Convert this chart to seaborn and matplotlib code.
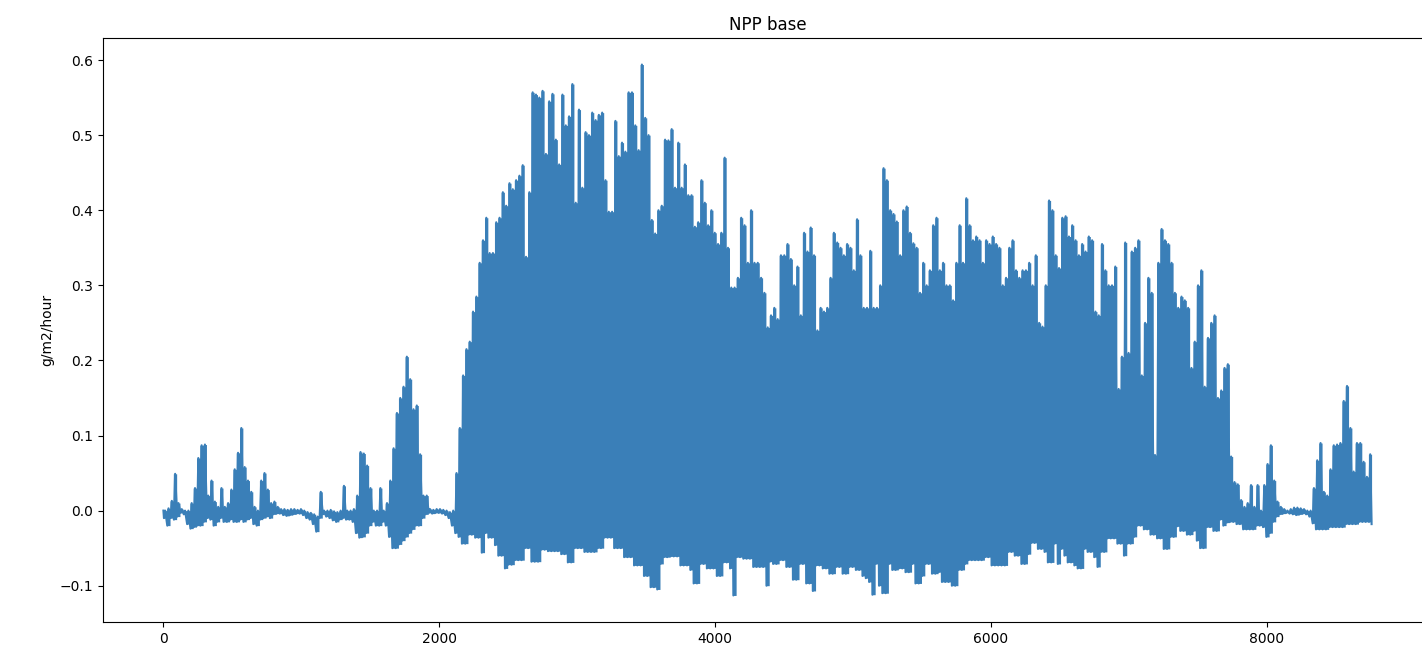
import matplotlib
matplotlib.use("Agg")
import matplotlib.pyplot as plt
import seaborn as sns

# Daily extremes of the hourly series (g/m2/hour)
daily_max = [
    0.0, 0.003, 0.013, 0.049, 0.01, 0.002, 0.0, 0.0, 0.01, 0.03,
    0.07, 0.087, 0.088, 0.02, 0.04, 0.012, 0.005, 0.03, 0.005, 0.01,
    0.028, 0.055, 0.077, 0.11, 0.058, 0.04, 0.025, 0.005, 0.0, 0.04,
    0.05, 0.028, 0.01, 0.012, 0.005, 0.002, 0.002, 0.001, 0.002, 0.002,
    0.001, 0.002, 0.0, -0.002, -0.003, -0.005, -0.008, 0.025, 0.0, 0.0,
    0.001, -0.001, -0.002, 0.0, 0.033, 0.0, 0.0, 0.002, 0.02, 0.078,
    0.076, 0.06, 0.03, 0.0, 0.0, 0.03, 0.0, 0.01, 0.04, 0.083,
    0.13, 0.15, 0.165, 0.205, 0.175, 0.135, 0.14, 0.075, 0.02, 0.02,
    0.002, 0.001, 0.002, 0.002, 0.001, 0.0, -0.002, 0.0, 0.05, 0.11,
    0.18, 0.215, 0.225, 0.265, 0.285, 0.33, 0.36, 0.39, 0.343, 0.343,
    0.384, 0.39, 0.424, 0.406, 0.436, 0.428, 0.44, 0.446, 0.46, 0.338,
    0.424, 0.557, 0.554, 0.55, 0.559, 0.475, 0.545, 0.555, 0.494, 0.461,
    0.554, 0.513, 0.525, 0.568, 0.41, 0.534, 0.43, 0.504, 0.50, 0.53,
    0.52, 0.527, 0.53, 0.44, 0.398, 0.398, 0.519, 0.472, 0.49, 0.478,
    0.557, 0.557, 0.513, 0.48, 0.594, 0.523, 0.50, 0.387, 0.369, 0.40,
    0.406, 0.494, 0.493, 0.508, 0.43, 0.49, 0.43, 0.461, 0.42, 0.42,
    0.378, 0.384, 0.44, 0.41, 0.38, 0.40, 0.37, 0.355, 0.37, 0.47,
    0.35, 0.297, 0.297, 0.31, 0.39, 0.38, 0.33, 0.40, 0.33, 0.33,
    0.31, 0.29, 0.244, 0.26, 0.27, 0.255, 0.34, 0.34, 0.355, 0.335,
    0.30, 0.325, 0.26, 0.37, 0.345, 0.377, 0.34, 0.24, 0.27, 0.265,
    0.27, 0.31, 0.37, 0.357, 0.35, 0.34, 0.355, 0.35, 0.32, 0.388,
    0.34, 0.27, 0.27, 0.346, 0.27, 0.27, 0.30, 0.456, 0.44, 0.40,
    0.395, 0.385, 0.34, 0.40, 0.405, 0.37, 0.356, 0.35, 0.29, 0.33,
    0.30, 0.32, 0.38, 0.39, 0.32, 0.33, 0.30, 0.30, 0.28, 0.33,
    0.38, 0.33, 0.416, 0.38, 0.36, 0.365, 0.36, 0.33, 0.36, 0.355,
    0.365, 0.355, 0.35, 0.30, 0.31, 0.35, 0.36, 0.32, 0.31, 0.32,
    0.32, 0.33, 0.30, 0.34, 0.25, 0.245, 0.30, 0.413, 0.40, 0.34,
    0.323, 0.39, 0.392, 0.365, 0.38, 0.36, 0.34, 0.355, 0.345, 0.365,
    0.36, 0.265, 0.26, 0.355, 0.32, 0.30, 0.30, 0.325, 0.162, 0.205,
    0.357, 0.21, 0.345, 0.35, 0.36, 0.18, 0.25, 0.31, 0.29, 0.074,
    0.33, 0.375, 0.36, 0.355, 0.33, 0.29, 0.27, 0.285, 0.28, 0.27,
    0.19, 0.225, 0.30, 0.32, 0.165, 0.23, 0.25, 0.26, 0.15, 0.16,
    0.19, 0.195, 0.072, 0.038, 0.035, 0.014, 0.005, 0.01, 0.034, 0.005,
    0.034, 0.0, 0.034, 0.062, 0.087, 0.04, 0.012, 0.005, 0.002, 0.0,
    0.002, 0.004, 0.004, 0.003, 0.002, 0.0, 0.0, 0.03, 0.067, 0.09,
    0.025, 0.02, 0.055, 0.087, 0.088, 0.09, 0.146, 0.166, 0.11, 0.052,
    0.09, 0.09, 0.065, 0.045, 0.075,
]

daily_min = [
    -0.01, -0.02, -0.01, -0.012, -0.008, -0.003, -0.005, -0.018, -0.024, -0.022,
    -0.02, -0.02, -0.015, -0.01, -0.012, -0.02, -0.015, -0.01, -0.015, -0.015,
    -0.012, -0.015, -0.015, -0.012, -0.015, -0.012, -0.01, -0.018, -0.02, -0.012,
    -0.01, -0.008, -0.01, -0.005, -0.004, -0.004, -0.006, -0.007, -0.006, -0.005,
    -0.004, -0.004, -0.006, -0.01, -0.012, -0.018, -0.028, -0.01, -0.005, -0.008,
    -0.01, -0.013, -0.015, -0.012, -0.01, -0.012, -0.012, -0.015, -0.03, -0.036,
    -0.035, -0.03, -0.02, -0.015, -0.02, -0.02, -0.015, -0.02, -0.035, -0.05,
    -0.05, -0.045, -0.04, -0.035, -0.03, -0.025, -0.02, -0.02, -0.01, -0.005,
    -0.003, -0.004, -0.003, -0.003, -0.004, -0.006, -0.01, -0.02, -0.03, -0.035,
    -0.044, -0.044, -0.032, -0.032, -0.036, -0.036, -0.056, -0.03, -0.036, -0.036,
    -0.046, -0.06, -0.06, -0.077, -0.072, -0.072, -0.066, -0.066, -0.066, -0.05,
    -0.05, -0.068, -0.068, -0.068, -0.052, -0.052, -0.054, -0.054, -0.054, -0.054,
    -0.058, -0.058, -0.069, -0.069, -0.05, -0.05, -0.05, -0.055, -0.055, -0.055,
    -0.055, -0.05, -0.05, -0.036, -0.036, -0.036, -0.05, -0.05, -0.05, -0.062,
    -0.062, -0.062, -0.073, -0.073, -0.073, -0.087, -0.087, -0.102, -0.102, -0.105,
    -0.071, -0.062, -0.062, -0.061, -0.061, -0.061, -0.073, -0.073, -0.073, -0.079,
    -0.097, -0.097, -0.071, -0.071, -0.077, -0.077, -0.077, -0.087, -0.087, -0.069,
    -0.069, -0.077, -0.113, -0.062, -0.062, -0.064, -0.064, -0.064, -0.075, -0.075,
    -0.075, -0.075, -0.1, -0.068, -0.071, -0.071, -0.066, -0.066, -0.075, -0.075,
    -0.092, -0.092, -0.071, -0.071, -0.097, -0.097, -0.107, -0.073, -0.073, -0.077,
    -0.077, -0.084, -0.084, -0.075, -0.075, -0.084, -0.084, -0.075, -0.075, -0.079,
    -0.079, -0.087, -0.09, -0.095, -0.112, -0.071, -0.1, -0.11, -0.11, -0.071,
    -0.079, -0.079, -0.077, -0.077, -0.082, -0.082, -0.071, -0.097, -0.097, -0.087,
    -0.071, -0.071, -0.084, -0.084, -0.082, -0.095, -0.095, -0.095, -0.1, -0.1,
    -0.079, -0.079, -0.071, -0.066, -0.066, -0.066, -0.066, -0.066, -0.062, -0.062,
    -0.073, -0.073, -0.073, -0.073, -0.073, -0.055, -0.055, -0.06, -0.06, -0.071,
    -0.071, -0.058, -0.043, -0.043, -0.051, -0.051, -0.055, -0.069, -0.069, -0.044,
    -0.071, -0.051, -0.06, -0.069, -0.069, -0.073, -0.077, -0.077, -0.051, -0.055,
    -0.055, -0.062, -0.075, -0.055, -0.055, -0.037, -0.037, -0.037, -0.044, -0.044,
    -0.06, -0.044, -0.044, -0.035, -0.02, -0.02, -0.025, -0.025, -0.032, -0.032,
    -0.037, -0.037, -0.051, -0.051, -0.035, -0.035, -0.021, -0.027, -0.027, -0.032,
    -0.032, -0.027, -0.04, -0.05, -0.05, -0.022, -0.022, -0.027, -0.027, -0.012,
    -0.02, -0.016, -0.015, -0.015, -0.018, -0.018, -0.025, -0.025, -0.025, -0.025,
    -0.02, -0.02, -0.022, -0.035, -0.03, -0.015, -0.008, -0.005, -0.004, -0.003,
    -0.004, -0.005, -0.006, -0.005, -0.004, -0.005, -0.008, -0.017, -0.025, -0.025,
    -0.025, -0.025, -0.022, -0.022, -0.022, -0.022, -0.022, -0.018, -0.018, -0.018,
    -0.018, -0.015, -0.015, -0.015, -0.015,
]

start_value = 0.0       # value at hour 0
end_value = -0.018      # value at the last hour
hours_per_day = 24
hour_of_min = 4
hour_of_max = 13
last_hour = 8759

title = "NPP base"
ylabel = "g/m2/hour"
xticks = [0, 2000, 4000, 6000, 8000]
line_color = "#3a7fb8"

n_days = len(daily_max)

# Hourly time axis: night minimum and midday maximum of each day
hours = [0]
values = [start_value]
for day, (lo, hi) in enumerate(zip(daily_min, daily_max)):
    hours += [day * hours_per_day + hour_of_min, day * hours_per_day + hour_of_max]
    values += [lo, hi]
hours.append(last_hour)
values.append(end_value)

# Daily band covered by the dense hourly trace
day_edges = [d * hours_per_day for d in range(n_days)] + [last_hour]
band_lo = daily_min + [daily_min[-1]]
band_hi = daily_max + [daily_max[-1]]

W, H = 1422, 652
fig = plt.figure(figsize=(W / 100, H / 100), dpi=100)
ax = fig.add_axes([103 / W, 30 / H, 1329 / W, 584 / H])

ax.fill_between(day_edges, band_lo, band_hi, step="post",
                color=line_color, linewidth=0)
sns.lineplot(x=hours, y=values, ax=ax, color=line_color, linewidth=1.5,
             estimator=None, sort=False)

ax.set_xticks(xticks)
ax.set_title(title)
ax.set_ylabel(ylabel)
ax.set_xlabel("")

fig.savefig("out.png", dpi=100)
